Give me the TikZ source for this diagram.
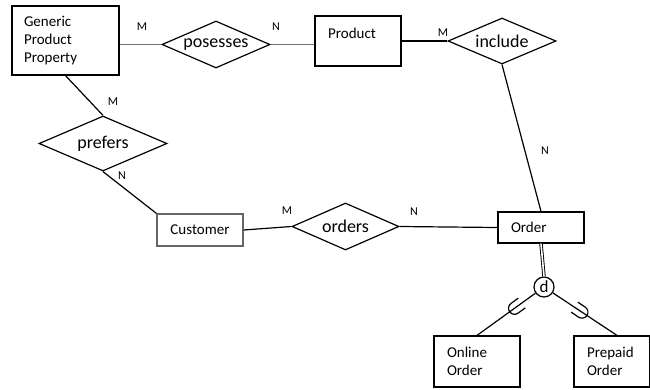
\documentclass[tikz,border=0pt]{standalone}
\usepackage{fontspec}
\setmainfont{Carlito}
\usetikzlibrary{shapes.geometric,calc}
\begin{document}
\begin{tikzpicture}[x=1pt,y=-1pt,
  entity/.style={draw, line width=1.2pt, inner sep=0pt, font=\fontsize{15}{18}\selectfont},
  relation/.style={draw, diamond, line width=1.2pt, inner sep=0pt, aspect=2.3, font=\fontsize{18}{20}\selectfont},
  card/.style={font=\fontsize{12}{14}\selectfont, inner sep=0pt},
  link/.style={line width=1.2pt},
  softlink/.style={line width=1pt, draw=black!55},
  subsetmark/.style={line width=1.2pt},
]
\useasboundingbox (0,0) rectangle (650,389);

% entities
\node[entity, minimum width=107, minimum height=69, text width=83, inner xsep=12, align=left] (gpp) at (65.5,40.5) {Generic\\Product\\Property};
\node[entity, minimum width=86, minimum height=50] (product) at (358,41) {};
\node[font=\fontsize{15}{18}\selectfont, inner sep=0pt, anchor=west] (productlabel) at (328,33) {Product};
\node[entity, draw=black!60, minimum width=86, minimum height=32] (customer) at (200,230) {Customer};
\node[entity, minimum width=86, minimum height=31, text width=60, inner xsep=13, align=left] (order) at (541,227.5) {Order};
\node[entity, minimum width=86, minimum height=51, text width=60, inner xsep=13, align=left] (online) at (477,361.5) {Online\\Order};
\node[entity, minimum width=76, minimum height=51, text width=50, inner xsep=13, align=left] (prepaid) at (612,361.5) {Prepaid\\Order};

% relationships
\node[relation, minimum width=108, minimum height=47] (posesses) at (216,44.5) {posesses};
\node[relation, minimum width=108, minimum height=46] (include) at (502,41) {include};
\node[relation, minimum width=128, minimum height=55] (prefers) at (103,143.5) {prefers};
\node[relation, minimum width=107, minimum height=47] (orders) at (345.5,226.5) {orders};

% disjoint specialisation
\node[draw, circle, line width=1.2pt, minimum size=20, inner sep=0pt, font=\fontsize{17}{17}\selectfont] (d) at (544,287) {d};

% connectors
\draw[softlink] (posesses.west -| gpp.east) -- (posesses.west);
\draw[softlink] (posesses.east) -- (posesses.east -| product.west);
\draw[link] (product.east) -- (include.west);
\draw[link] (include.south) -- (order.north);
\draw[link] (gpp.south) -- (prefers.north);
\draw[link] (prefers.south) -- (customer.north west);
\draw[link] (customer.east) -- (orders.west);
\draw[link] (orders.east) -- (order.west);
\draw[line width=0.9pt, double, double distance=1.6pt] (order.south) -- (d.north);
\coordinate (prepaidtop) at ([xshift=5]prepaid.north);
\draw[link] (d) -- (online.north);
\draw[link] (d) -- (prepaidtop);

% subset marks
\coordinate (cupL) at ($(d)!0.44!(online.north)$);
\coordinate (cupR) at ($(d)!0.52!(prepaidtop)$);
\begin{scope}[shift={(cupL)}, rotate=36.2]
  \draw[subsetmark] (9,6) -- (0,6) arc[start angle=90, end angle=270, radius=6] -- (9,-6);
\end{scope}
\begin{scope}[shift={(cupR)}, rotate=146.1]
  \draw[subsetmark] (9,6) -- (0,6) arc[start angle=90, end angle=270, radius=6] -- (9,-6);
\end{scope}

% cardinalities
\node[card] (c1) at (142,27) {M};
\node[card] (c2) at (276,27) {N};
\node[card] (c3) at (443,33) {M};
\node[card] (c4) at (113,102) {M};
\node[card] (c5) at (122,176) {N};
\node[card] (c6) at (545,151) {N};
\node[card] (c7) at (287,211) {M};
\node[card] (c8) at (414,212) {N};
\end{tikzpicture}
\end{document}
